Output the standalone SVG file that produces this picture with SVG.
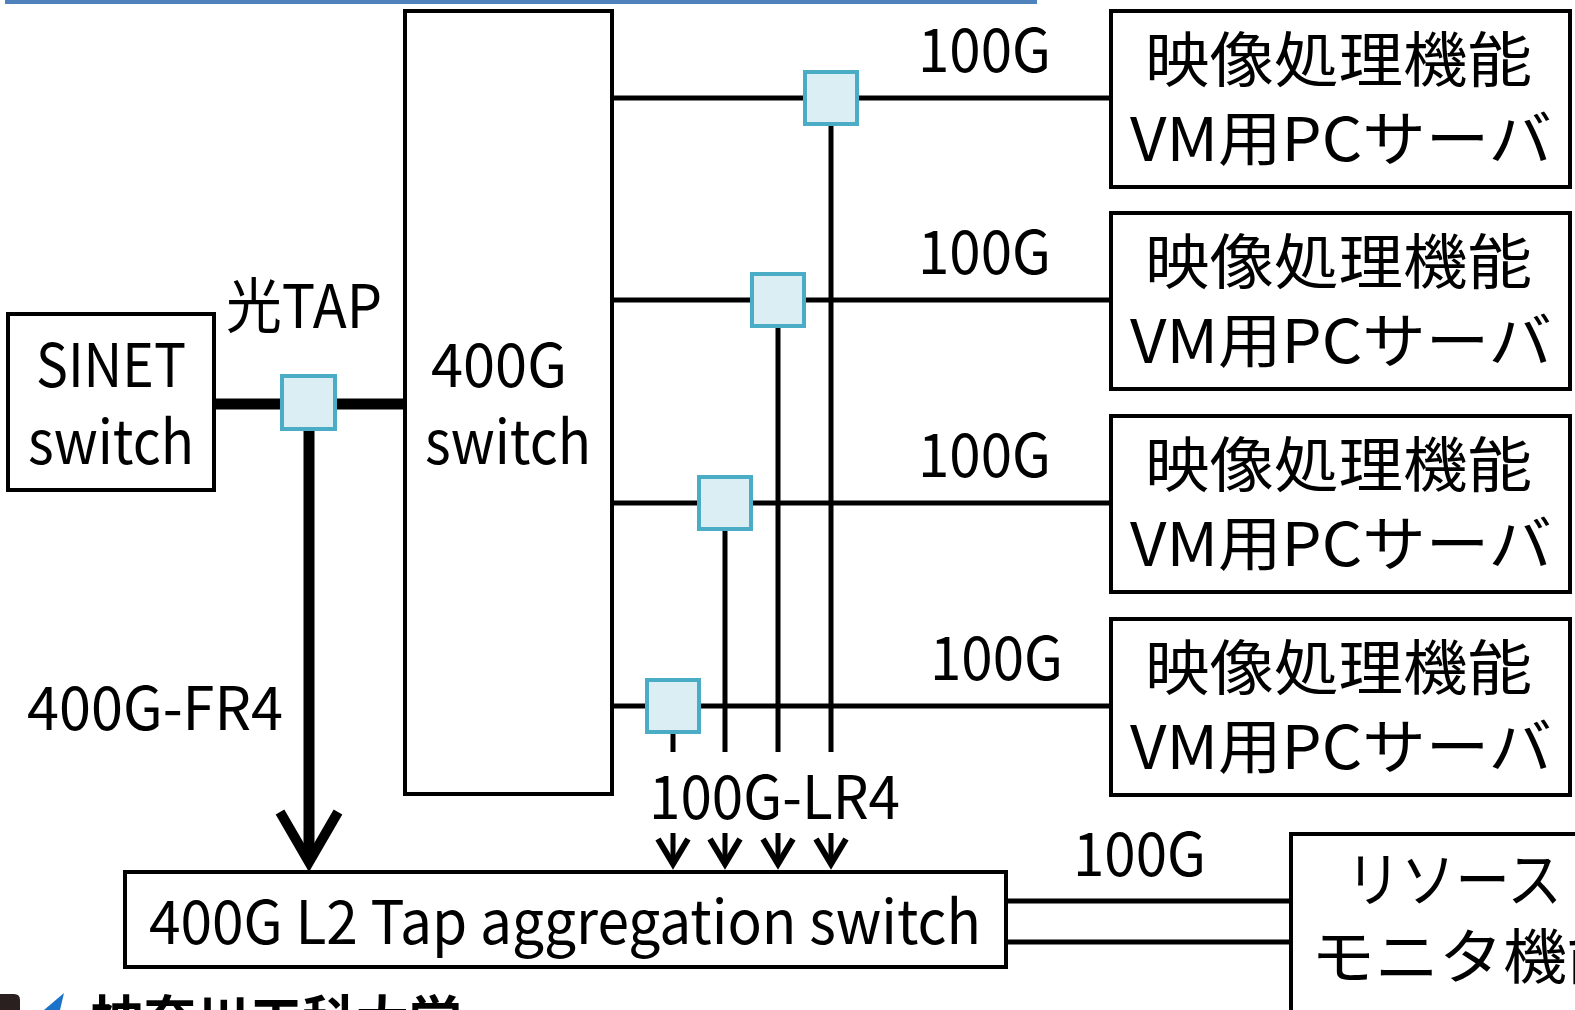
<svg xmlns="http://www.w3.org/2000/svg" width="1575" height="1010" viewBox="0 0 1575 1010">
<style>
.box{fill:#fff;stroke:#000;stroke-width:4}
.tap{fill:#DAEEF3;stroke:#4BACC6;stroke-width:4}
.ln{stroke:#000;stroke-width:5;fill:none}
.thk{stroke:#000;stroke-width:11;fill:none}
text{font-family:"Noto Sans CJK JP","Noto Sans",sans-serif;fill:#000}
.t{font-size:60px}
.j{font-size:60px}
</style>
<defs>
<marker id="arrS" markerUnits="userSpaceOnUse" viewBox="0 0 40 40" markerWidth="40" markerHeight="40" refX="30" refY="20" orient="auto">
<path d="M5,5 L30,20 L5,35" fill="none" stroke="#000" stroke-width="6"/>
</marker>
<marker id="arrB" markerUnits="userSpaceOnUse" viewBox="0 0 70 70" markerWidth="70" markerHeight="70" refX="58" refY="35" orient="auto">
<path d="M8,6 L58,35 L8,64" fill="none" stroke="#000" stroke-width="10"/>
</marker>
</defs>
<rect x="5" y="0" width="1032" height="4" fill="#4F81BD"/>
<g id="connectors">
<line class="thk" x1="214" y1="404" x2="405" y2="404"/>
<line class="thk" x1="309" y1="429" x2="309" y2="862" marker-end="url(#arrB)"/>
<line class="ln" x1="612" y1="98" x2="1111" y2="98"/>
<line class="ln" x1="612" y1="300" x2="1111" y2="300"/>
<line class="ln" x1="612" y1="503" x2="1111" y2="503"/>
<line class="ln" x1="612" y1="706" x2="1111" y2="706"/>
<line class="ln" x1="831" y1="124" x2="831" y2="752"/>
<line class="ln" x1="778" y1="326" x2="778" y2="752"/>
<line class="ln" x1="725" y1="529" x2="725" y2="752"/>
<line class="ln" x1="673" y1="732" x2="673" y2="752"/>
<line class="ln" x1="673" y1="833" x2="673" y2="864" marker-end="url(#arrS)"/>
<line class="ln" x1="725" y1="833" x2="725" y2="864" marker-end="url(#arrS)"/>
<line class="ln" x1="778" y1="833" x2="778" y2="864" marker-end="url(#arrS)"/>
<line class="ln" x1="831" y1="833" x2="831" y2="864" marker-end="url(#arrS)"/>
<line class="ln" x1="1006" y1="901" x2="1291" y2="901"/>
<line class="ln" x1="1006" y1="942" x2="1291" y2="942"/>
<text class="t" x="226" y="328" textLength="156" lengthAdjust="spacingAndGlyphs">光TAP</text>
<text class="t" x="27" y="730" textLength="256" lengthAdjust="spacingAndGlyphs">400G-FR4</text>
<text class="t" x="918" y="72" textLength="133" lengthAdjust="spacingAndGlyphs">100G</text>
<text class="t" x="918" y="274" textLength="133" lengthAdjust="spacingAndGlyphs">100G</text>
<text class="t" x="918" y="477" textLength="133" lengthAdjust="spacingAndGlyphs">100G</text>
<text class="t" x="930" y="680" textLength="133" lengthAdjust="spacingAndGlyphs">100G</text>
<text class="t" x="649" y="819" textLength="251" lengthAdjust="spacingAndGlyphs">100G-LR4</text>
<text class="t" x="1073" y="876" textLength="133" lengthAdjust="spacingAndGlyphs">100G</text>
</g>
<g id="tap-main"><rect class="tap" x="282" y="376" width="53" height="53"/></g>
<g id="tap-1"><rect class="tap" x="805" y="72" width="52" height="52"/></g>
<g id="tap-2"><rect class="tap" x="752" y="274" width="52" height="52"/></g>
<g id="tap-3"><rect class="tap" x="699" y="477" width="52" height="52"/></g>
<g id="tap-4"><rect class="tap" x="647" y="680" width="52" height="52"/></g>
<g id="sinet">
<rect class="box" x="8" y="314" width="206" height="176"/>
<text class="t" x="111" y="387" text-anchor="middle" textLength="150" lengthAdjust="spacingAndGlyphs">SINET</text>
<text class="t" x="111" y="464" text-anchor="middle" textLength="166" lengthAdjust="spacingAndGlyphs">switch</text>
</g>
<g id="switch400">
<rect class="box" x="405" y="11" width="207" height="783"/>
<text class="t" x="499" y="387" text-anchor="middle" textLength="136" lengthAdjust="spacingAndGlyphs">400G</text>
<text class="t" x="508" y="464" text-anchor="middle" textLength="166" lengthAdjust="spacingAndGlyphs">switch</text>
</g>
<g id="server1">
<rect class="box" x="1111" y="11" width="459" height="176"/>
<text class="j" x="1145" y="82" textLength="387" lengthAdjust="spacingAndGlyphs">映像処理機能</text>
<text class="j" x="1130" y="161" textLength="422" lengthAdjust="spacingAndGlyphs">VM用PCサーバ</text>
</g>
<g id="server2">
<rect class="box" x="1111" y="213" width="459" height="176"/>
<text class="j" x="1145" y="284" textLength="387" lengthAdjust="spacingAndGlyphs">映像処理機能</text>
<text class="j" x="1130" y="363" textLength="422" lengthAdjust="spacingAndGlyphs">VM用PCサーバ</text>
</g>
<g id="server3">
<rect class="box" x="1111" y="416" width="459" height="176"/>
<text class="j" x="1145" y="487" textLength="387" lengthAdjust="spacingAndGlyphs">映像処理機能</text>
<text class="j" x="1130" y="566" textLength="422" lengthAdjust="spacingAndGlyphs">VM用PCサーバ</text>
</g>
<g id="server4">
<rect class="box" x="1111" y="619" width="459" height="176"/>
<text class="j" x="1145" y="690" textLength="387" lengthAdjust="spacingAndGlyphs">映像処理機能</text>
<text class="j" x="1130" y="769" textLength="422" lengthAdjust="spacingAndGlyphs">VM用PCサーバ</text>
</g>
<g id="aggregation">
<rect class="box" x="125" y="872" width="881" height="95"/>
<text class="t" x="149" y="944" textLength="832" lengthAdjust="spacingAndGlyphs">400G L2 Tap aggregation switch</text>
</g>
<g id="resource">
<rect class="box" x="1291" y="834" width="300" height="200"/>
<text class="j" x="1346" y="902" textLength="216" lengthAdjust="spacingAndGlyphs">リソース</text>
<text class="j" x="1311" y="979" textLength="320" lengthAdjust="spacingAndGlyphs">モニタ機能</text>
</g>
<g id="logo">
<path d="M0,994 L14,994 Q20,994 20,1000 L20,1010 L0,1010 Z" fill="#2a2020"/>
<path d="M44,1010 L64,993 L60,1010 Z" fill="#1a73c8"/>
<text x="90" y="1040" font-size="53" font-weight="bold" textLength="372" lengthAdjust="spacingAndGlyphs">神奈川工科大学</text>
</g>
</svg>
